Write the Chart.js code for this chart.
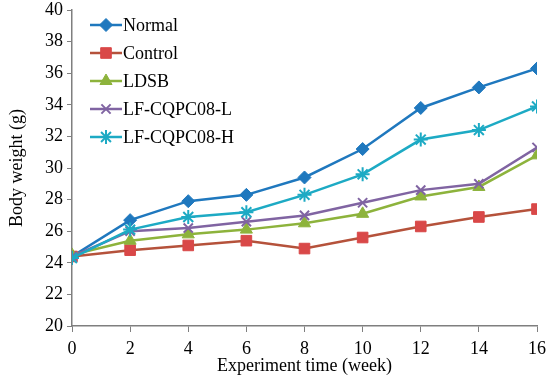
<!DOCTYPE html>
<html>
<head>
<meta charset="utf-8">
<script src="https://cdn.jsdelivr.net/npm/chart.js@4.4.0/dist/chart.umd.min.js"></script>
<style>
html,body{margin:0;padding:0;background:#fff;}
#wrap{width:550px;height:382px;position:relative;}
</style>
</head>
<body>
<div id="wrap"><canvas id="c" width="550" height="382"></canvas></div>
<script>
const weeks = [0, 2, 4, 6, 8, 10, 12, 14, 16];
const seriesNames = ["Normal", "Control", "LDSB", "LF-CQPC08-L", "LF-CQPC08-H"];
const normal  = [24.4, 26.7, 27.9, 28.3, 29.4, 31.2, 33.8, 35.1, 36.3];
const control = [24.4, 24.8, 25.1, 25.4, 24.9, 25.6, 26.3, 26.9, 27.4];
const ldsb    = [24.5, 25.4, 25.8, 26.1, 26.5, 27.1, 28.2, 28.8, 30.8];
const lfL     = [24.4, 26.0, 26.2, 26.6, 27.0, 27.8, 28.6, 29.0, 31.3];
const lfH     = [24.3, 26.1, 26.9, 27.2, 28.3, 29.6, 31.8, 32.4, 33.9];
const yTicks  = [20, 22, 24, 26, 28, 30, 32, 34, 36, 38, 40];
const xTitle = "Experiment time (week)";
const yTitle = "Body weight (g)";

const styles = [
  {line:'#1F78BE', fill:'#1F78BE', point:'rectRot', r:6.5},
  {line:'#B5523B', fill:'#D94848', point:'rect', r:7.5},
  {line:'#8DB33C', fill:'#8DB33C', point:'triangle', r:7},
  {line:'#8064A2', fill:'#8064A2', point:'crossRot', r:6.5},
  {line:'#1DAAC4', fill:'#1DAAC4', point:'star', r:7}
];
const allData = [normal, control, ldsb, lfL, lfH];

const datasets = allData.map((d, i) => ({
  label: seriesNames[i],
  data: weeks.map((w, j) => ({x: w, y: d[j]})),
  borderColor: styles[i].line,
  backgroundColor: styles[i].fill,
  pointBackgroundColor: styles[i].fill,
  pointBorderColor: styles[i].fill,
  pointStyle: styles[i].point,
  pointRadius: styles[i].r,
  pointBorderWidth: (styles[i].point === 'crossRot' || styles[i].point === 'star') ? 2 : 1,
  borderWidth: 2.5,
  tension: 0,
  order: 5 - i
}));

const fam = "'Liberation Serif', 'Times New Roman', serif";
const font = {family: fam, size: 18};

const legendPlugin = {
  id: 'insideLegend',
  afterDraw(chart) {
    const ctx = chart.ctx;
    ctx.save();
    seriesNames.forEach((name, i) => {
      const y = 25 + i * 28;
      const ds = chart.data.datasets[i];
      ctx.strokeStyle = ds.borderColor;
      ctx.lineWidth = 2.5;
      ctx.beginPath();
      ctx.moveTo(90, y);
      ctx.lineTo(122, y);
      ctx.stroke();
      const opts = {pointStyle: ds.pointStyle, radius: ds.pointRadius, borderWidth: ds.pointBorderWidth, rotation: 0};
      ctx.fillStyle = ds.pointBackgroundColor;
      ctx.strokeStyle = ds.pointBorderColor;
      ctx.lineWidth = ds.pointBorderWidth;
      if (Chart.helpers && Chart.helpers.drawPoint) {
        Chart.helpers.drawPoint(ctx, opts, 106, y);
      }
      ctx.fillStyle = '#000';
      ctx.font = "18px " + fam;
      ctx.textBaseline = 'middle';
      ctx.textAlign = 'left';
      ctx.fillText(name, 123, y + 1);
    });
    ctx.restore();
  }
};

new Chart(document.getElementById('c'), {
  type: 'line',
  data: {datasets},
  options: {
    responsive: false,
    animation: false,
    devicePixelRatio: 1,
    layout: {padding: {top: 10, right: 13, left: 0, bottom: 0}},
    plugins: {legend: {display: false}, tooltip: {enabled: false}},
    scales: {
      x: {
        type: 'linear', min: 0, max: 16,
        ticks: {stepSize: 2, color: '#000', font, padding: 6},
        grid: {display: true, drawOnChartArea: false, tickLength: 6, color: '#7f7f7f', lineWidth: 1},
        border: {color: '#7f7f7f', width: 1.5},
        title: {display: true, text: xTitle, color: '#000', font, padding: {top: 0, bottom: 5}},
        afterFit(s) { s.height = 56; s.paddingLeft = 0; s.paddingRight = 0; }
      },
      y: {
        type: 'linear', min: 20, max: 40,
        afterBuildTicks(s) { s.ticks = yTicks.map(v => ({value: v})); },
        ticks: {color: '#000', font, padding: 4},
        grid: {display: true, drawOnChartArea: false, tickLength: 5, color: '#7f7f7f', lineWidth: 1},
        border: {color: '#7f7f7f', width: 1.5},
        title: {display: true, text: yTitle, color: '#000', font, padding: {top: 6, bottom: 4}},
        afterFit(s) { s.width = 72; s.paddingTop = 0; s.paddingBottom = 0; }
      }
    }
  },
  plugins: [legendPlugin]
});
</script>
</body>
</html>
